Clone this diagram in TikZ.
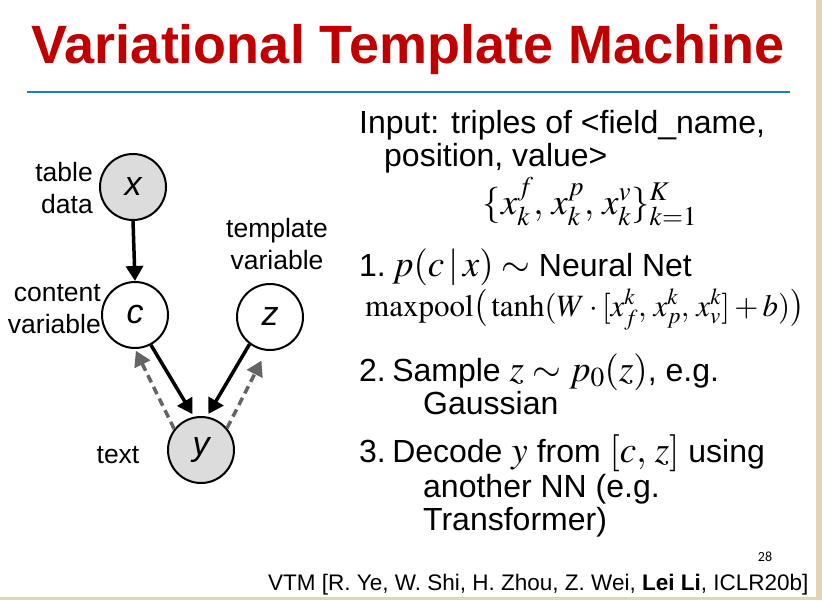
\documentclass[tikz,border=0pt]{standalone}
\usepackage{mathptmx}
\usepackage[no-math]{fontspec}
\setmainfont{Liberation Sans}
\newfontfamily\slidenum{Carlito}
\usetikzlibrary{arrows.meta}
\definecolor{titlered}{RGB}{192,0,0}
\definecolor{ruleblue}{RGB}{31,120,212}
\definecolor{beige}{RGB}{226,212,182}
\definecolor{nodegray}{RGB}{220,220,220}
\definecolor{dashgray}{RGB}{100,100,100}
\newcommand{\bigmath}[1]{{\fontsize{37}{40}\selectfont$#1$}}
\begin{document}
\begin{tikzpicture}[x=1pt,y=-1pt,
  body/.style={font=\fontsize{32}{36}\selectfont, anchor=base west, inner sep=0pt},
  lab/.style={font=\fontsize{26.5}{32}\selectfont, inner sep=0pt},
  rv/.style={circle, draw, line width=2pt, minimum size=66pt, inner sep=0pt, fill=white, font=\fontsize{34}{34}\selectfont\itshape},
  obs/.style={rv, fill=nodegray},
  solidarr/.style={line width=3.5pt, -{Triangle[length=15pt,width=17pt]}},
  dasharr/.style={line width=3.5pt, draw=dashgray, dash pattern=on 8pt off 5pt, -{Triangle[length=15pt,width=17pt]}}
]
\useasboundingbox (0,0) rectangle (822,600);
\fill[white] (0,0) rectangle (822,600);
\fill[beige] (816,0) rectangle (822,600);
\fill[beige] (0,597) rectangle (822,600);

% title
\node[font=\fontsize{54}{60}\selectfont\bfseries, text=titlered, anchor=base, inner sep=0pt] (title) at (408,63) {Variational Template Machine};
\draw[line width=2.5pt, ruleblue] (27,92) -- (790,92);

% graphical model
\node[obs] (x) at (133,187) {x};
\node[rv]  (c) at (135,315) {c};
\node[rv]  (z) at (270,317) {z};
\node[obs] (y) at (201,450) {y};

\node[lab, align=right, anchor=east] (lx) at (93,188) {table\\data};
\node[lab, align=center] (lz) at (277,244) {template\\variable};
\node[lab, align=right, anchor=east] (lc) at (101,309) {content\\variable};
\node[lab] (ly) at (118,455) {text};

\draw[solidarr] (x.south) -- (c.north);
\draw[solidarr, shorten >=3pt] (c.-62) -- (y.102);
\draw[solidarr, shorten >=3pt] (z.-127) -- (y.80);
\draw[dasharr, shorten >=2pt] (y.142) -- (c.-90);
\draw[dasharr, shorten >=11pt] (y.40) -- (z.-96);

% right text
\node[body] (t1) at (359,133) {Input: triples of <field\_name,};
\node[body] (t2) at (384,166) {position, value>};
\node[font=\fontsize{36.5}{38}\selectfont, anchor=base, inner sep=0pt] (t3) at (590,214) {$\{x_k^f,\, x_k^p,\, x_k^v\}_{k=1}^K$};
\node[body] (t4) at (359,276) {1.\hspace{0.2em}\bigmath{p(c\,|\,x)\sim{}}Neural Net};
\node[font=\fontsize{31}{33}\selectfont, anchor=base west, inner sep=0pt] (t5) at (365,316) {$\mathrm{maxpool}\big(\tanh(W\cdot[x_f^k,\, x_p^k,\, x_v^k]+b)\big)$};
\node[body] (t6) at (359,381) {2.\hspace{0.2em}Sample \bigmath{z\sim p_0(z)}, e.g.};
\node[body] (t7) at (423,414) {Gaussian};
\node[body] (t8) at (359,462) {3.\hspace{0.2em}Decode \bigmath{y} from \bigmath{[c,\, z]} using};
\node[body] (t9) at (423,497) {another NN (e.g.};
\node[body] (t10) at (423,530) {Transformer)};

\node[font=\slidenum\fontsize{14}{16}\selectfont, anchor=base, inner sep=0pt] (pg) at (765,561) {28};
\node[font=\fontsize{22.5}{26}\selectfont, anchor=base west, inner sep=0pt] (cite) at (268,590) {VTM [R. Ye, W. Shi, H. Zhou, Z. Wei, \textbf{Lei Li}, ICLR20b]};
\end{tikzpicture}
\end{document}
